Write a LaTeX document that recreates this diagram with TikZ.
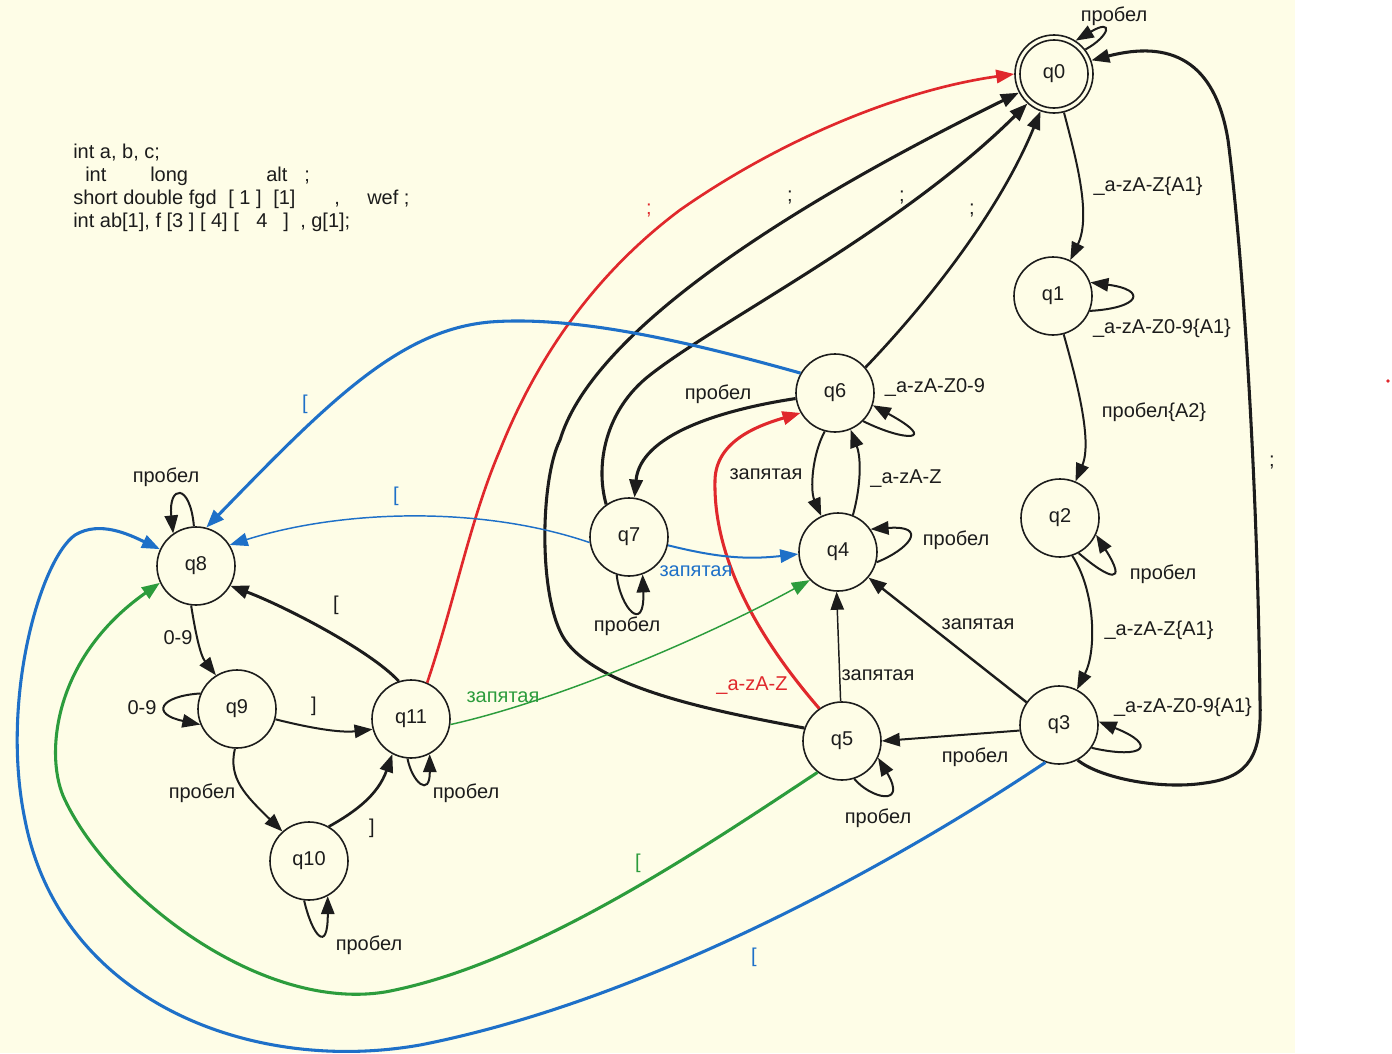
\documentclass[tikz,border=0pt]{standalone}
\usepackage{fontspec}
\setmainfont{Liberation Sans}
\usetikzlibrary{arrows.meta}
\definecolor{bgy}{HTML}{FEFDE7}
\definecolor{ink}{HTML}{1C1C1C}
\definecolor{ered}{HTML}{E0282C}
\definecolor{eblue}{HTML}{1E70C8}
\definecolor{egreen}{HTML}{2C9C3C}
\begin{document}
\begin{tikzpicture}[x=0.75pt,y=-0.75pt,
 st/.style={circle,draw=ink,line width=1.2pt,minimum size=58.5pt,inner sep=0pt,font=\fontsize{15}{18}\selectfont,text=ink},
 lbl/.style={inner sep=0pt,font=\fontsize{15}{18}\selectfont,text=ink},
 code/.style={inner sep=0pt,anchor=base west,font=\fontsize{15}{18}\selectfont,text=ink},
 ed/.style={draw=ink,line width=1.5pt,-{Triangle[length=13.5pt,width=10pt]}},
 thk/.style={line width=2.3pt},
 thn/.style={line width=1.1pt}]
\fill[white] (0,0) rectangle (1392,1053);
\fill[bgy] (0,0) rectangle (1295,1053);
\useasboundingbox (0,0) rectangle (1392,1053);
\fill[ered] (1388,381) circle (1.8);

% code text
\node[code] (t1) at (73,158) {int a, b, c;};
\node[code] (t2a) at (85,181) {int};
\node[code] (t2b) at (150,181) {long};
\node[code] (t2c) at (266,181) {alt};
\node[code] (t2d) at (304,181) {;};
\node[code] (t3a) at (73,204) {short double fgd};
\node[code] (t3b) at (228,204) {[ 1 ]};
\node[code] (t3c) at (273,204) {[1]};
\node[code] (t3d) at (334,204) {,};
\node[code] (t3e) at (367,204) {wef ;};
\node[code] (t4a) at (73,227) {int ab[1], f [3 ] [ 4] [};
\node[code] (t4b) at (256,227) {4};
\node[code] (t4c) at (283,227) {]};
\node[code] (t4d) at (300,227) {, g[1];};

% states
\node[st] (q0) at (1054,74) {q0};
\node[circle,draw=ink,line width=1.2pt,minimum size=51pt,inner sep=0pt] (q0in) at (q0) {};
\node[st] (q1) at (1053,296) {q1};
\node[st] (q2) at (1060,518) {q2};
\node[st] (q3) at (1059,725) {q3};
\node[st] (q4) at (838,552) {q4};
\node[st] (q5) at (842,741) {q5};
\node[st] (q6) at (835,393) {q6};
\node[st] (q7) at (629,537) {q7};
\node[st] (q8) at (196,566) {q8};
\node[st] (q9) at (237,709) {q9};
\node[st] (q10) at (309,861) {q10};
\node[st] (q11) at (411,719) {q11};

% edges
\draw[ed] (q0.38) .. controls (1110,36) and (1114,18) .. (q0.57);
\draw[ed] (q0) .. controls (1075,155) and (1092,215) .. (q1);
\draw[ed] (q1.-22) .. controls (1140,308) and (1148,290) .. (q1.20);
\draw[ed] (q1) .. controls (1075,375) and (1093,440) .. (q2);
\draw[ed] (q2.-62) .. controls (1110,580) and (1128,585) .. (q2.-25);
\draw[ed] (q2.-72) .. controls (1095,590) and (1097,650) .. (q3);
\draw[ed] (q3.-35) .. controls (1145,760) and (1158,745) .. (q3.5);
\draw[ed,thk] (q3.-62) .. controls (1100,778) and (1160,790) .. (1205,783) .. controls (1250,777) and (1262,755) .. (1260,700) .. controls (1257,450) and (1240,230) .. (1228,140) .. controls (1215,60) and (1170,40) .. (q0.20);
\draw[ed] (q3.188) -- (q5.0);
\draw[ed,line width=1.8pt] (q3.145) -- (q4.-40);
\draw[ed,draw=eblue,thk] (q3.250) .. controls (900,860) and (650,1000) .. (420,1045) .. controls (250,1075) and (60,1000) .. (25,820) .. controls (0,700) and (40,560) .. (75,535) .. controls (100,520) and (130,535) .. (q8.155);
\draw[ed] (q5.-72) .. controls (870,798) and (908,808) .. (q5.-25);
\draw[ed,thn] (q5.92) -- (q4.-92);
\draw[ed,draw=ered,thk] (q5.125) .. controls (760,640) and (713,560) .. (715,480) .. controls (716,440) and (760,425) .. (q6.210);
\draw[ed,thk] (q5.161) .. controls (720,712) and (600,690) .. (565,640) .. controls (538,600) and (540,480) .. (560,440) .. controls (590,340) and (760,220) .. (q0.208);
\draw[ed,thk] (q7.125) .. controls (595,465) and (605,410) .. (650,375) .. controls (720,320) and (900,230) .. (q0.228);
\draw[ed,line width=2pt] (q6.40) .. controls (930,300) and (1000,210) .. (q0.250);
\draw[ed,draw=ered,line width=2pt] (q11.66) .. controls (455,600) and (470,520) .. (500,450) .. controls (540,350) and (600,270) .. (680,210) .. controls (780,140) and (900,90) .. (q0.180);
\draw[ed,draw=eblue,thk] (q6.150) .. controls (700,345) and (580,315) .. (490,322) .. controls (400,330) and (330,400) .. (q8.75);
\draw[ed,draw=eblue,thn] (q7.188) .. controls (480,505) and (340,510) .. (q8.32);
\draw[ed,draw=eblue] (q7.-12) .. controls (715,557) and (745,560) .. (q4.183);
\draw[ed] (q7.-108) .. controls (620,608) and (645,635) .. (q7.-70);
\draw[ed,thk] (q6.188) .. controls (720,410) and (640,435) .. (q7.82);
\draw[ed] (q6.-45) .. controls (905,442) and (940,442) .. (q6.-18);
\draw[ed] (q6.-105) .. controls (812,455) and (810,490) .. (q4.115);
\draw[ed] (q4.68) .. controls (860,490) and (862,460) .. (q6.-67);
\draw[ed] (q4.-15) .. controls (908,550) and (930,525) .. (q4.35);
\draw[ed] (q8.93) .. controls (190,482) and (168,485) .. (q8.125);
\draw[ed] (q8.-97) .. controls (195,630) and (200,655) .. (q9.122);
\draw[ed] (q9.157) .. controls (160,696) and (150,714) .. (q9.203);
\draw[ed] (q9.-15) .. controls (310,728) and (340,733) .. (q11.195);
\draw[ed] (q9.-93) .. controls (228,778) and (245,795) .. (q10.132);
\draw[ed,line width=2pt] (q10.60) .. controls (355,812) and (378,795) .. (q11.-118);
\draw[ed] (q10.-97) .. controls (312,935) and (328,955) .. (q10.-62);
\draw[ed,line width=2.2pt] (q11.108) .. controls (370,650) and (282,605) .. (q8.-30);
\draw[ed] (q11.-95) .. controls (412,782) and (430,798) .. (q11.-62);
\draw[ed,draw=egreen,thn] (q11.-8) .. controls (560,700) and (710,635) .. (q4.225);
\draw[ed,draw=egreen,thk] (q5.232) .. controls (700,850) and (530,965) .. (385,992) .. controls (260,1012) and (110,895) .. (65,800) .. controls (45,760) and (50,660) .. (q8.205);

% labels
\node[lbl] (l1) at (1114,16) {пробел};
\node[lbl] (l2) at (1148,186) {\_a-zA-Z\{A1\}};
\node[lbl] (l3) at (1162,328) {\_a-zA-Z0-9\{A1\}};
\node[lbl] (l4) at (1154,412) {пробел\{A2\}};
\node[lbl] (l5) at (1163,574) {пробел};
\node[lbl] (l6) at (1159,630) {\_a-zA-Z\{A1\}};
\node[lbl] (l7) at (1183,707) {\_a-zA-Z0-9\{A1\}};
\node[lbl] (l8) at (1272,462) {;};
\node[lbl] (l9) at (975,757) {пробел};
\node[lbl] (l10) at (978,624) {запятая};
\node[lbl,text=eblue] (l11) at (754,957) {[};
\node[lbl] (l12) at (878,818) {пробел};
\node[lbl] (l13) at (878,675) {запятая};
\node[lbl,text=ered] (l14) at (752,686) {\_a-zA-Z};
\node[lbl] (l15) at (790,197) {;};
\node[lbl] (l16) at (902,197) {;};
\node[lbl] (l17) at (972,210) {;};
\node[lbl,text=ered] (l18) at (649,210) {;};
\node[lbl,text=eblue] (l19) at (305,404) {[};
\node[lbl,text=eblue] (l20) at (396,496) {[};
\node[lbl,text=eblue] (l21) at (696,571) {запятая};
\node[lbl] (l22) at (627,626) {пробел};
\node[lbl] (l23) at (935,387) {\_a-zA-Z0-9};
\node[lbl] (l24) at (766,474) {запятая};
\node[lbl] (l25) at (906,479) {\_a-zA-Z};
\node[lbl] (l26) at (956,540) {пробел};
\node[lbl] (l27) at (718,394) {пробел};
\node[lbl] (l28) at (166,477) {пробел};
\node[lbl] (l29) at (178,638) {0-9};
\node[lbl] (l30) at (142,708) {0-9};
\node[lbl] (l31) at (314,706) {]};
\node[lbl] (l32) at (202,793) {пробел};
\node[lbl] (l33) at (372,828) {]};
\node[lbl] (l34) at (369,945) {пробел};
\node[lbl] (l35) at (336,605) {[};
\node[lbl] (l36) at (466,793) {пробел};
\node[lbl,text=egreen] (l37) at (503,697) {запятая};
\node[lbl,text=egreen] (l38) at (638,863) {[};
\end{tikzpicture}
\end{document}
